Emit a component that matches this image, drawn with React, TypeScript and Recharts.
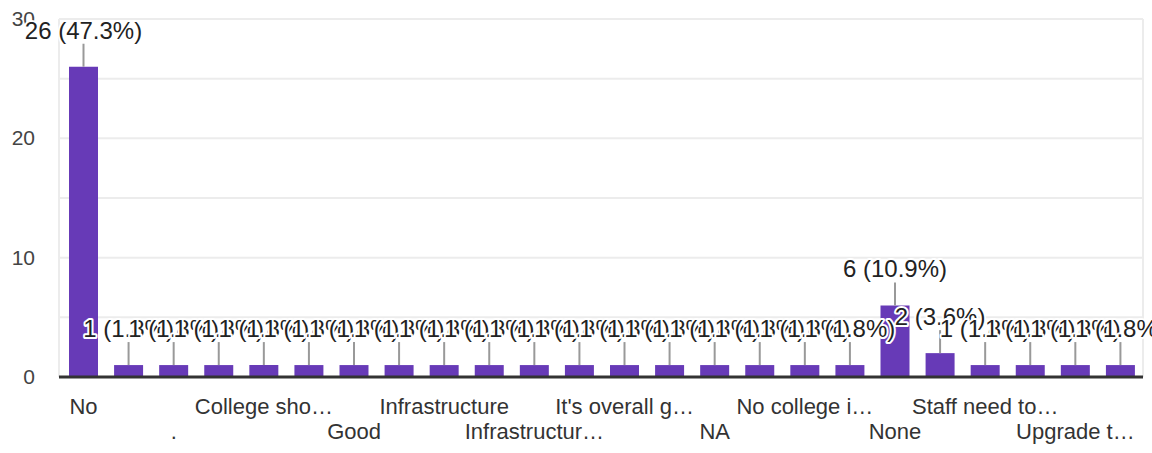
import { BarChart, Bar, XAxis, YAxis, CartesianGrid, LabelList } from "recharts";

// only every 2nd label fits under the bars, so the rest stay blank
const categories = [
  "No", "", ".", "", "College sho…", "", "Good", "", "Infrastructure", "",
  "Infrastructur…", "", "It's overall g…", "", "NA", "", "No college i…", "",
  "None", "", "Staff need to…", "", "Upgrade t…", "",
];
const counts = [26, 1, 1, 1, 1, 1, 1, 1, 1, 1, 1, 1, 1, 1, 1, 1, 1, 1, 6, 2, 1, 1, 1, 1];
const yTicks = [0, 5, 10, 15, 20, 25, 30];

const total = counts.reduce((a, b) => a + b, 0);
const data = counts.map((count, i) => ({ key: i, count }));

const FONT = '"Liberation Sans", Arial, sans-serif';
const PURPLE = "#673ab7";

function YTick(props: any) {
  const { x, y, payload } = props;
  if (payload.value % 10 !== 0) return null;
  return (
    <text x={x} y={y} dy={7} textAnchor="end" fontSize={21} fontFamily={FONT} fill="#444">
      {payload.value}
    </text>
  );
}

function XTick(props: any) {
  const { x, y, payload, index } = props;
  if (index % 2 !== 0) return null;
  const row = (index / 2) % 2;
  return (
    <text x={x} y={y + 37 + row * 25} textAnchor="middle" fontSize={22} fontFamily={FONT} fill="#333">
      {categories[payload.value]}
    </text>
  );
}

function ValueLabel(props: any) {
  const { x, y, width, value } = props;
  const cx = x + width / 2;
  const pct = ((value / total) * 100).toFixed(1);
  return (
    <g>
      <line x1={cx} x2={cx} y1={y - 23} y2={y} stroke="#999" strokeWidth={2} />
      <text
        x={cx}
        y={y - 28}
        textAnchor="middle"
        fontSize={24}
        fontFamily={FONT}
        fill="#222"
        stroke="#fff"
        strokeWidth={4}
        paintOrder="stroke"
        strokeLinejoin="round"
      >
        {`${value} (${pct}%)`}
      </text>
    </g>
  );
}

export default function App() {
  return (
    <div style={{ position: "fixed", left: 0, top: 0, background: "#fff" }}>
      <BarChart width={1152} height={453} data={data} margin={{ top: 19, right: 9, left: 0, bottom: 0 }} barSize={29}>
        <CartesianGrid
          stroke="#ececec"
          strokeWidth={2}
          verticalCoordinatesGenerator={({ offset }: any) => [offset.left, offset.left + offset.width]}
        />
        <YAxis
          width={59}
          domain={[0, 30]}
          ticks={yTicks}
          interval={0}
          axisLine={false}
          tickLine={false}
          tickSize={0}
          tickMargin={24}
          tick={<YTick />}
        />
        <XAxis
          dataKey="key"
          height={76}
          interval={0}
          padding={{ left: 2, right: 0 }}
          axisLine={{ stroke: "#333", strokeWidth: 3 }}
          tickLine={false}
          tickSize={0}
          tickMargin={0}
          tick={<XTick />}
        />
        <Bar dataKey="count" fill={PURPLE} isAnimationActive={false}>
          <LabelList dataKey="count" content={<ValueLabel />} />
        </Bar>
      </BarChart>
    </div>
  );
}
